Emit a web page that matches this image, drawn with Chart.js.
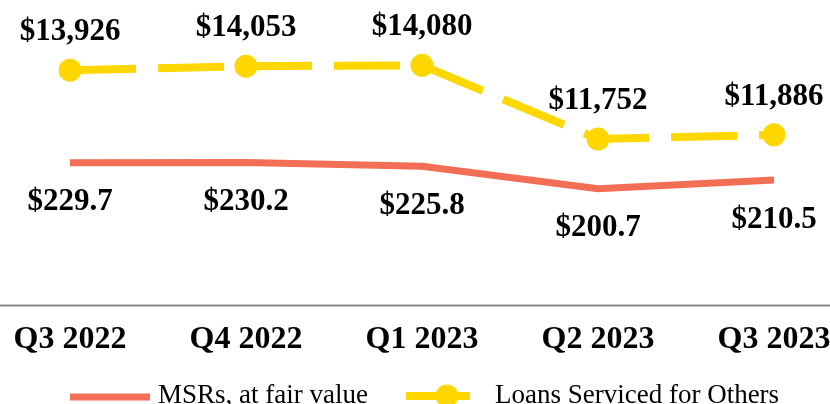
<!DOCTYPE html>
<html>
<head>
<meta charset="utf-8">
<script src="https://cdn.jsdelivr.net/npm/chart.js@4/dist/chart.umd.min.js"></script>
<style>
  html, body { margin: 0; padding: 0; background: #fff; }
  #wrap { width: 830px; height: 404px; }
</style>
</head>
<body>
<div id="wrap"><canvas id="chart"></canvas></div>
<script>
// Données
const quarters = ['Q3 2022', 'Q4 2022', 'Q1 2023', 'Q2 2023', 'Q3 2023']
const msrValues = [229.7, 230.2, 225.8, 200.7, 210.5]
const loanValues = [13926, 14053, 14080, 11752, 11886]
const msrLabels = ['$229.7', '$230.2', '$225.8', '$200.7', '$210.5']
const loanLabels = ['$13,926', '$14,053', '$14,080', '$11,752', '$11,886']
const legendNames = ['MSRs, at fair value', 'Loans Serviced for Others']

const RED = '#F26E55'
const GOLD = '#FFD700'
const SERIF = '"Liberation Serif", "Times New Roman", serif'

Chart.defaults.font.family = SERIF
Chart.defaults.color = '#000'

// Etiquettes de valeurs : au-dessus pour les prêts, en dessous pour les MSRs
const valueLabels = {
  id: 'valueLabels',
  afterDatasetsDraw(chart) {
    const ctx = chart.ctx
    ctx.save()
    ctx.font = 'bold 31px ' + SERIF
    ctx.fillStyle = '#000'
    ctx.textAlign = 'center'
    ctx.textBaseline = 'alphabetic'
    chart.data.datasets.forEach((ds, i) => {
      const meta = chart.getDatasetMeta(i)
      meta.data.forEach((pt, j) => {
        const y = ds.labelPos === 'above' ? pt.y - 30 : pt.y + 47.5
        ctx.fillText(ds.valueText[j], pt.x, y)
      })
    })
    ctx.restore()
  }
}

// Ligne de l'axe X sur toute la largeur
const axisLine = {
  id: 'axisLine',
  afterDraw(chart) {
    const ctx = chart.ctx
    const y = chart.chartArea.bottom
    ctx.save()
    ctx.strokeStyle = '#888888'
    ctx.lineWidth = 2
    ctx.beginPath()
    ctx.moveTo(0, y)
    ctx.lineTo(chart.width, y)
    ctx.stroke()
    ctx.restore()
  }
}

// Légende dessinée à la main (ligne + point pour la série en pointillés)
const customLegend = {
  id: 'customLegend',
  afterDraw(chart) {
    const ctx = chart.ctx
    const ds = chart.data.datasets
    const y = 397
    const base = 403
    let x = 70
    ctx.save()
    ctx.font = '27px ' + SERIF
    ctx.fillStyle = '#000'
    ctx.textBaseline = 'alphabetic'
    ctx.textAlign = 'left'
    // MSRs
    ctx.strokeStyle = ds[1].borderColor
    ctx.lineWidth = ds[1].borderWidth
    ctx.beginPath()
    ctx.moveTo(x, y)
    ctx.lineTo(x + 80, y)
    ctx.stroke()
    x += 88
    ctx.fillText(ds[1].label, x, base)
    x += ctx.measureText(ds[1].label).width + 38
    // Prêts
    ctx.strokeStyle = ds[0].borderColor
    ctx.lineWidth = ds[0].borderWidth
    ctx.beginPath()
    ctx.moveTo(x, y - 1)
    ctx.lineTo(x + 64, y - 1)
    ctx.stroke()
    ctx.fillStyle = ds[0].pointBackgroundColor
    ctx.beginPath()
    ctx.arc(x + 41, y - 1, ds[0].pointRadius, 0, Math.PI * 2)
    ctx.fill()
    x += 89
    ctx.fillStyle = '#000'
    ctx.fillText(ds[0].label, x, base)
    ctx.restore()
  }
}

const config = {
  type: 'line',
  data: {
    labels: quarters,
    datasets: [{
      label: legendNames[1],
      data: loanValues,
      valueText: loanLabels,
      labelPos: 'above',
      yAxisID: 'yLoans',
      borderColor: GOLD,
      backgroundColor: GOLD,
      pointBackgroundColor: GOLD,
      pointBorderWidth: 0,
      pointRadius: 11.5,
      borderWidth: 8,
      borderDash: [66, 22],
      tension: 0
    },
    {
      label: legendNames[0],
      data: msrValues,
      valueText: msrLabels,
      labelPos: 'below',
      yAxisID: 'yMsr',
      borderColor: RED,
      backgroundColor: RED,
      pointRadius: 0,
      borderWidth: 7,
      tension: 0
    }]
  },
  options: {
    responsive: true,
    maintainAspectRatio: false,
    animation: false,
    layout: { autoPadding: false, padding: { left: 70, right: 56, top: 0, bottom: 38 } },
    plugins: {
      legend: { display: false },
      tooltip: { enabled: false }
    },
    scales: {
      x: {
        grid: { display: false },
        border: { display: false },
        afterFit(scale) {  // pas de marge ajoutée pour le dernier libellé
          scale.paddingLeft = 0
          scale.paddingRight = 0
        },
        ticks: {
          padding: 7,
          color: '#000',
          font: { size: 32, weight: 'bold', family: SERIF }
        }
      },
      yLoans: {
        display: false,
        min: 6489,
        max: 16144
      },
      yMsr: {
        display: false,
        min: 70.1,
        max: 411.8
      }
    }
  },
  plugins: [valueLabels, axisLine, customLegend]
}

new Chart(document.getElementById('chart').getContext('2d'), config)
</script>
</body>
</html>
